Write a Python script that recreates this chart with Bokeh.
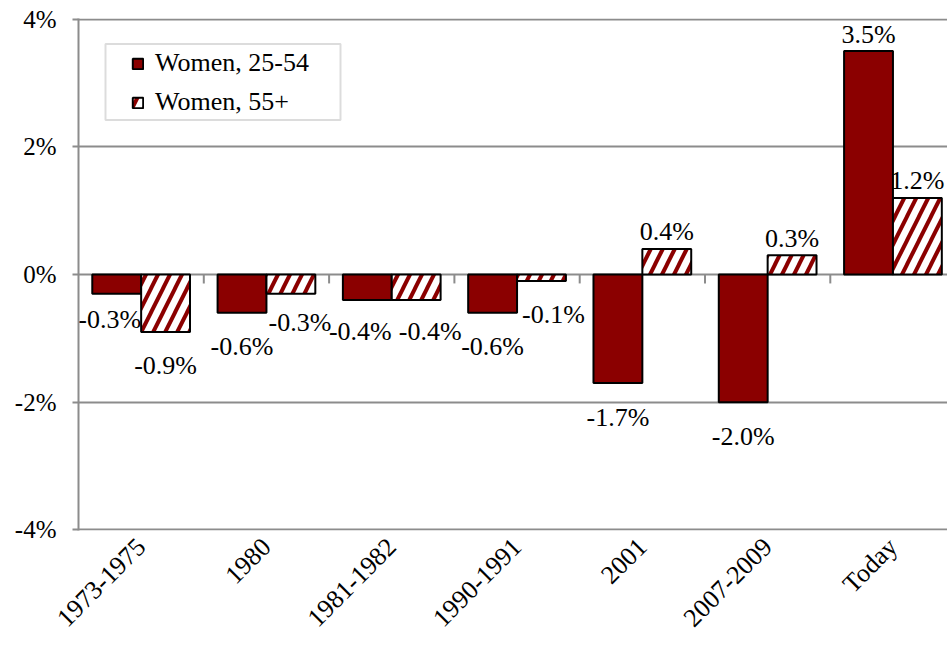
import math
from bokeh.plotting import figure
from bokeh.models import (ColumnDataSource, Range1d, FixedTicker, PrintfTickFormatter,
                          Legend, LegendItem, BoxAnnotation)
from bokeh.transform import dodge
from bokeh.embed import file_html
from bokeh.resources import INLINE

# ---- data ----
categories = ["1973-1975", "1980", "1981-1982", "1990-1991", "2001", "2007-2009", "Today"]
women_25_54 = [-0.3, -0.6, -0.4, -0.6, -1.7, -2.0, 3.5]
women_55_plus = [-0.9, -0.3, -0.4, -0.1, 0.4, 0.3, 1.2]
y_ticks = [-4, -2, 0, 2, 4]
series_names = ["Women, 25-54", "Women, 55+"]

# ---- style / layout ----
RED = "#8B0000"
GRID = "#8c8c8c"
FONT = "Liberation Serif"
FS = "26px"
FS_Y = "25px"
W, H = 947, 647
LEFT, TOP = 78, 18
FRAME_W, FRAME_H = W - LEFT, 512
BOTTOM = H - TOP - FRAME_H
CAT_PX = 125.3                    # pixels per category
PX_PER_UNIT = FRAME_H / (y_ticks[-1] - y_ticks[0])
BAR_W = 0.39
OFF = BAR_W / 2
EPS = 0.01

# label nudges (screen px) to mimic the original label placement
dx_a = [-7, 0, -7, 0, 0, 0, 0]
dy_a = [-8, 0, -3, 0, 0, 0, 0]
dx_b = [0, 9, 14, 12, 0, 0, 0]
dy_b = [0, -5, -3, 0, 0, 0, 0]

xs = list(range(len(categories)))
x_lo = -0.5
x_hi = x_lo + FRAME_W / CAT_PX


def lab_offsets(vals, dys):
    return [(-17 if v >= 0 else 34) + d for v, d in zip(vals, dys)]


src = ColumnDataSource(dict(
    x=xs,
    a=women_25_54,
    b=women_55_plus,
    a_lab=[f"{v:.1f}%" for v in women_25_54],
    b_lab=[f"{v:.1f}%" for v in women_55_plus],
    a_dx=dx_a, b_dx=dx_b,
    a_dy=lab_offsets(women_25_54, dy_a),
    b_dy=lab_offsets(women_55_plus, dy_b),
))

p = figure(width=W, height=H, output_backend="svg", toolbar_location=None,
           x_range=Range1d(x_lo, x_hi),
           y_range=Range1d(y_ticks[0] - EPS, y_ticks[-1] + EPS),
           min_border_left=LEFT, min_border_right=0, min_border_top=TOP,
           min_border_bottom=BOTTOM)
p.outline_line_color = None
p.background_fill_color = "white"
p.border_fill_color = "white"

# grid
p.xgrid.visible = False
p.ygrid.ticker = FixedTicker(ticks=y_ticks)
p.ygrid.grid_line_color = GRID
p.ygrid.grid_line_width = 2

# y axis
p.yaxis.ticker = FixedTicker(ticks=y_ticks)
p.yaxis.formatter = PrintfTickFormatter(format="%d%%")
p.yaxis.axis_line_color = GRID
p.yaxis.axis_line_width = 2
p.yaxis.major_tick_line_color = GRID
p.yaxis.major_tick_line_width = 2
p.yaxis.major_tick_out = 6
p.yaxis.major_tick_in = 0
p.yaxis.minor_tick_line_color = None
p.yaxis.major_label_standoff = 16
p.yaxis.major_label_text_font = FONT
p.yaxis.major_label_text_font_size = FS_Y
p.yaxis.major_label_text_color = "black"

# x axis: rotated category labels
p.xaxis.ticker = FixedTicker(ticks=xs)
p.xaxis.major_label_overrides = {i: c for i, c in zip(xs, categories)}
p.xaxis.major_label_orientation = math.pi / 4
p.xaxis.axis_line_color = None
p.xaxis.major_tick_line_color = None
p.xaxis.minor_tick_line_color = None
p.xaxis.major_tick_out = 0
p.xaxis.major_tick_in = 0
p.xaxis.minor_tick_out = 0
p.xaxis.major_label_standoff = 12
p.xaxis.major_label_text_font = FONT
p.xaxis.major_label_text_font_size = FS
p.xaxis.major_label_text_color = "black"

# category-boundary ticks on the zero line
bx = [i + 0.5 for i in xs[:-1]]
p.segment(x0=bx, y0=[0] * len(bx), x1=bx, y1=[-0.14] * len(bx),
          line_color=GRID, line_width=2)

# bars
r1 = p.vbar(x=dodge("x", -OFF, range=p.x_range), top="a", bottom=0, width=BAR_W,
            source=src, fill_color=RED, line_color="black", line_width=2)
r2 = p.vbar(x=dodge("x", OFF, range=p.x_range), top="b", bottom=0, width=BAR_W,
            source=src, fill_color="white", line_color="black", line_width=2,
            hatch_pattern="/", hatch_color=RED, hatch_weight=4, hatch_scale=24)

# data labels
p.text(x=dodge("x", -OFF, range=p.x_range), y="a", text="a_lab", source=src,
       x_offset="a_dx", y_offset="a_dy", text_align="center",
       text_baseline="alphabetic", text_font={"value": FONT},
       text_font_size={"value": FS}, text_color="black")
p.text(x=dodge("x", OFF, range=p.x_range), y="b", text="b_lab", source=src,
       x_offset="b_dx", y_offset="b_dy", text_align="center",
       text_baseline="alphabetic", text_font={"value": FONT},
       text_font_size={"value": FS}, text_color="black")


# legend box (pixel layout converted to data units)
def px_x(px):
    return x_lo + px / CAT_PX


def px_y(px):
    return y_ticks[-1] - px / PX_PER_UNIT


p.add_layout(BoxAnnotation(left=px_x(27), right=px_x(262), top=px_y(25), bottom=px_y(101),
                           fill_color=None, line_color=GRID, line_width=2))

legend = Legend(items=[LegendItem(label=series_names[0], renderers=[r1]),
                       LegendItem(label=series_names[1], renderers=[r2])],
                location=(53, 413), orientation="vertical")
legend.border_line_color = None
legend.background_fill_alpha = 0
legend.padding = 0
legend.margin = 0
legend.spacing = 9
legend.glyph_width = 13
legend.glyph_height = 13
legend.label_standoff = 11
legend.label_text_font = FONT
legend.label_text_font_size = FS
legend.label_text_color = "black"
p.add_layout(legend)

open("out.html", "w").write(file_html(p, INLINE))
